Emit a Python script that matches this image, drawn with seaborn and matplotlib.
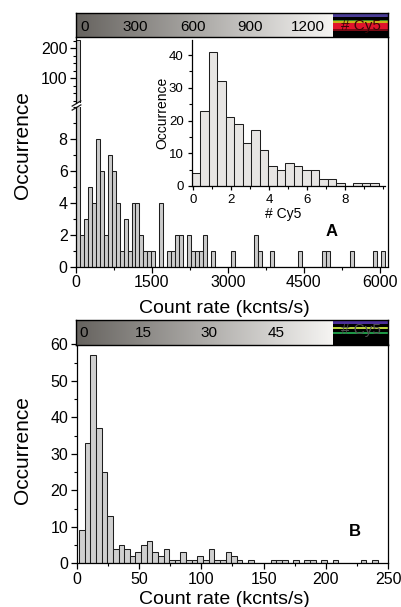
import numpy as np
import pandas as pd
import matplotlib
matplotlib.use("Agg")
import matplotlib.pyplot as plt
from matplotlib.colors import LinearSegmentedColormap
from matplotlib.lines import Line2D
from matplotlib.ticker import MultipleLocator, FixedLocator
from matplotlib.transforms import offset_copy
import seaborn as sns

# ---- values ----
# A: count rate histogram (kcnts/s), equal bins from rate_a_start
rate_a_start = 0.0
rate_a_width = 78.3
rate_a_counts = [228, 2, 3, 5, 4, 8, 6, 2, 7, 6,
                 4, 1, 3, 1, 4, 4, 2, 1, 1, 1,
                 0, 4, 0, 1, 1, 2, 2, 0, 2, 1,
                 1, 1, 2, 0, 1, 0, 0, 0, 0, 1,
                 0, 0, 0, 0, 0, 2, 1, 0, 0, 1,
                 0, 0, 0, 0, 0, 0, 1, 0, 0, 0,
                 0, 0, 1, 1, 0, 0, 0, 0, 0, 1,
                 0, 0, 0, 0, 0, 1, 0, 1]

# A inset: number of Cy5
cy5_start = -0.05
cy5_width = 0.447
cy5_counts = [4, 23, 41, 32, 21, 19, 13, 17, 11, 6, 5, 7, 6, 5, 5, 2, 2, 1, 0, 1, 1, 1]

# B: count rate histogram (kcnts/s)
rate_b_start = 1.9
rate_b_width = 4.52
rate_b_counts = [9, 33, 57, 37, 25, 13, 4, 5, 4, 2,
                 3, 5, 6, 3, 2, 4, 1, 1, 3, 1,
                 1, 2, 1, 4, 1, 1, 3, 2, 1, 0,
                 1, 0, 0, 0, 1, 1, 1, 0, 1, 0,
                 1, 1, 0, 1, 0, 1, 0, 0, 0, 0,
                 1, 0, 1]

# labels printed inside the colour strips
strip_a_labels = [0, 300, 600, 900, 1200]
strip_b_labels = [0, 15, 30, 45]

sns.set_theme(style="ticks")
plt.rcParams["font.family"] = ["Liberation Sans", "DejaVu Sans"]
plt.rcParams["text.color"] = "black"
plt.rcParams["axes.labelcolor"] = "black"
plt.rcParams["xtick.color"] = "black"
plt.rcParams["ytick.color"] = "black"
plt.rcParams["axes.edgecolor"] = "black"
plt.rcParams["axes.linewidth"] = 0.9

W, H = 402, 607
fig = plt.figure(figsize=(W / 100, H / 100), dpi=100)


def px_axes(x0, y0, x1, y1):
    return fig.add_axes([x0 / W, 1 - y1 / H, (x1 - x0) / W, (y1 - y0) / H])


def hist(ax, start, width, counts, face):
    edges = start + width * np.arange(len(counts) + 1)
    df = pd.DataFrame({"center": edges[:-1] + width / 2,
                       "count": np.asarray(counts, dtype=float)})
    sns.histplot(data=df, x="center", weights="count", bins=list(edges), ax=ax,
                 color=face, edgecolor="#1e1e1e", linewidth=0.75, alpha=1)
    ax.set_xlabel("")
    ax.set_ylabel("")


def style_ticks(ax, size):
    ax.tick_params(which="major", direction="out", length=4, width=0.9,
                   labelsize=size, pad=2)
    ax.tick_params(which="minor", direction="out", length=2.5, width=0.8)
    ax.tick_params(top=False, right=False, which="both")


gray = LinearSegmentedColormap.from_list("strip", ["#66635f", "#f6f5f3"])


def strip(ax, labels, v_left, v_white, v_right, bands, text_color, text_y, label_y):
    ax.imshow(np.linspace(0, 1, 256)[None, :], cmap=gray, aspect="auto",
              extent=[v_left, v_white, 0, 1])
    ax.axvspan(v_white, v_right, color="black", lw=0)
    for y0, y1, c in bands:
        ax.fill_between([v_white, v_right], y0, y1, color=c, lw=0)
    ax.text((v_white + v_right) / 2, text_y, "# Cy5", ha="center", va="center",
            size=11, color=text_color)
    first = offset_copy(ax.transData, fig=fig, x=3, y=0, units="dots")
    for i, v in enumerate(labels):
        if i == 0:
            ax.text(v, label_y, str(v), ha="left", va="center", size=11,
                    transform=first)
        else:
            ax.text(v, label_y, str(v), ha="center", va="center", size=11)
    ax.set_xlim(v_left, v_right)
    ax.set_ylim(0, 1)
    ax.set_xticks([])
    ax.set_yticks([])
    for s in ax.spines.values():
        s.set_visible(True)
        s.set_color("black")
        s.set_linewidth(1.0)


# ---------------- panel A ----------------
ax_hi = px_axes(76, 37, 388, 103)
ax_lo = px_axes(76, 107, 388, 267)
for ax in (ax_hi, ax_lo):
    hist(ax, rate_a_start, rate_a_width, rate_a_counts, "#cbcbcb")
    ax.set_xlim(0, 6160)
    style_ticks(ax, 11.5)
    ax.spines["right"].set_visible(False)
    ax.spines["top"].set_visible(False)

ax_hi.set_ylim(17.7, 237.7)
ax_hi.spines["bottom"].set_visible(False)
ax_hi.tick_params(which="both", bottom=False, labelbottom=False)
ax_hi.yaxis.set_major_locator(FixedLocator([100, 200]))
ax_hi.yaxis.set_minor_locator(MultipleLocator(25))

ax_lo.set_ylim(0, 10)
ax_lo.yaxis.set_major_locator(FixedLocator([0, 2, 4, 6, 8]))
ax_lo.yaxis.set_minor_locator(MultipleLocator(1))
ax_lo.xaxis.set_major_locator(MultipleLocator(1500))
ax_lo.xaxis.set_minor_locator(MultipleLocator(750))

# axis break marks
kw = dict(marker=[(-1, -0.6), (1, 0.6)], markersize=7, linestyle="none",
          color="k", mec="k", mew=0.9, clip_on=False)
ax_hi.plot([0], [0], transform=ax_hi.transAxes, **kw)
ax_lo.plot([0], [1], transform=ax_lo.transAxes, **kw)
fig.add_artist(Line2D([388 / W, 388 / W], [1 - 267 / H, 1 - 37 / H],
                      color="black", lw=0.9))

# inset
ax_in = px_axes(192, 40, 385, 186)
hist(ax_in, cy5_start, cy5_width, cy5_counts, "#e7e5e3")
ax_in.set_facecolor("none")
ax_in.set_xlim(-0.05, 10.1)
ax_in.set_ylim(0, 44.6)
ax_in.spines["right"].set_visible(False)
ax_in.spines["top"].set_visible(False)
style_ticks(ax_in, 9.5)
ax_in.tick_params(which="major", length=3, pad=3)
ax_in.tick_params(which="minor", length=2)
ax_in.xaxis.set_major_locator(FixedLocator([0, 2, 4, 6, 8]))
ax_in.xaxis.set_minor_locator(MultipleLocator(1))
ax_in.yaxis.set_major_locator(MultipleLocator(10))
ax_in.yaxis.set_minor_locator(MultipleLocator(5))
fig.text(162 / W, 1 - 113 / H, "Occurrence", rotation=90, ha="center",
         va="center", size=10)
fig.text(283 / W, 1 - 218 / H, "# Cy5", ha="center", va="baseline", size=10)

fig.text(332 / W, 1 - 232 / H, "A", ha="center", va="center", size=12,
         weight="bold")
fig.text(23 / W, 1 - 145 / H, "Occurrence", rotation=90, ha="center",
         va="center", size=15)
fig.text(224 / W, 1 - 313 / H, "Count rate (kcnts/s)", ha="center",
         va="baseline", size=14)

strip_a = px_axes(76, 13, 388, 37)
strip(strip_a, strip_a_labels, -6.8, 1330, 1616,
      [(0.84, 0.95, "#4b3d98"), (0.66, 0.72, "#3c8c28"),
       (0.57, 0.66, "#c8b418"), (0.34, 0.57, "#e0142c"),
       (0.23, 0.34, "#7a0a14")],
      "#3a0606", 0.45, 0.43)

# ---------------- panel B ----------------
ax_b = px_axes(76.7, 344.3, 388.3, 563.3)
hist(ax_b, rate_b_start, rate_b_width, rate_b_counts, "#cfcfcf")
ax_b.set_xlim(0, 250)
ax_b.set_ylim(0, 60)
style_ticks(ax_b, 11.5)
ax_b.spines["top"].set_visible(False)
ax_b.spines["right"].set_visible(True)
ax_b.xaxis.set_major_locator(MultipleLocator(50))
ax_b.xaxis.set_minor_locator(MultipleLocator(25))
ax_b.yaxis.set_major_locator(MultipleLocator(10))
ax_b.yaxis.set_minor_locator(MultipleLocator(5))

fig.text(355 / W, 1 - 532 / H, "B", ha="center", va="center", size=12,
         weight="bold")
fig.text(23 / W, 1 - 450 / H, "Occurrence", rotation=90, ha="center",
         va="center", size=15)
fig.text(224 / W, 1 - 604 / H, "Count rate (kcnts/s)", ha="center",
         va="baseline", size=14)

strip_b = px_axes(76, 320, 388, 345)
strip(strip_b, strip_b_labels, -0.11, 57.9, 70.3,
      [(0.83, 0.97, "#4b2f9a"), (0.64, 0.72, "#b9d23c"),
       (0.43, 0.51, "#1e9646")],
      "#505050", 0.6, 0.47)

fig.savefig("out.png", dpi=100)
